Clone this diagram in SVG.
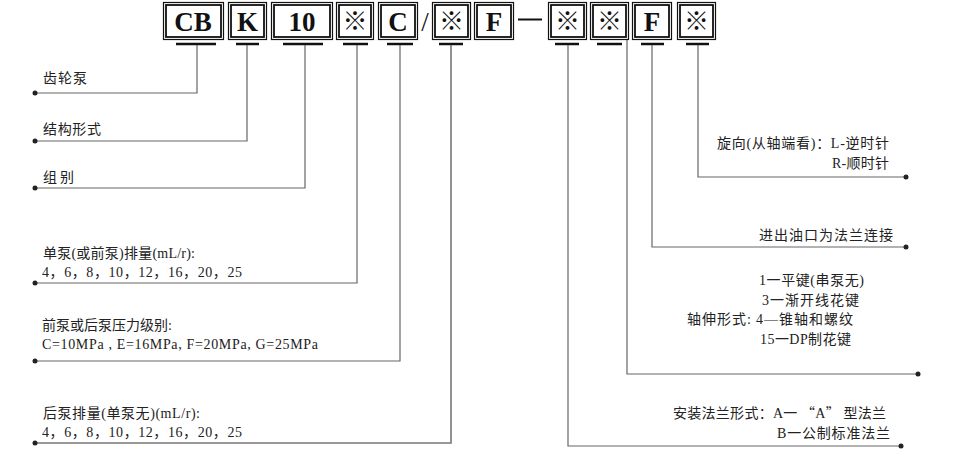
<svg xmlns="http://www.w3.org/2000/svg" width="953" height="464" viewBox="0 0 953 464">
<defs>
<style>
.bo{fill:none;stroke:#111;stroke-width:1.2}
.bi{fill:#fff;stroke:#111;stroke-width:1.8}
.bt{font-family:"Liberation Serif",serif;font-weight:bold;font-size:27px;fill:#111;text-anchor:middle}
.sym{font-family:"Noto Sans CJK SC",sans-serif;font-size:25px;fill:#111;text-anchor:middle}
.bar{stroke:#111;stroke-width:2.5}
.ln{fill:none;stroke:#666;stroke-width:1.2}
.dot{fill:#222}
.cn{font-family:"Noto Sans CJK SC",sans-serif;font-size:14px;fill:#222}
.sr{font-family:"Liberation Serif","Noto Sans CJK SC",serif;font-size:14px;fill:#222}
</style>
</defs>
<rect width="953" height="464" fill="#fff"/>

<g id="code">
<g id="box-CB"><rect class="bo" x="163.5" y="2.5" width="60" height="37"/><rect class="bi" x="166" y="5" width="55" height="32"/><text class="bt" x="193" y="31">CB</text></g>
<g id="box-K"><rect class="bo" x="228.5" y="2.5" width="38" height="37"/><rect class="bi" x="231" y="5" width="33" height="32"/><text class="bt" x="247.5" y="31">K</text></g>
<g id="box-10"><rect class="bo" x="271.5" y="2.5" width="61" height="37"/><rect class="bi" x="274" y="5" width="56" height="32"/><text class="bt" x="302" y="31">10</text></g>
<g id="box-s1"><rect class="bo" x="336.5" y="2.5" width="37" height="37"/><rect class="bi" x="339" y="5" width="32" height="32"/><text class="sym" x="355" y="30">※</text></g>
<g id="box-C"><rect class="bo" x="378.5" y="2.5" width="39" height="37"/><rect class="bi" x="381" y="5" width="34" height="32"/><text class="bt" x="398" y="31">C</text></g>
<text id="slash" class="bt" style="font-weight:normal" x="425" y="31">/</text>
<g id="box-s2"><rect class="bo" x="432.5" y="2.5" width="38" height="37"/><rect class="bi" x="435" y="5" width="33" height="32"/><text class="sym" x="451.5" y="30">※</text></g>
<g id="box-F1"><rect class="bo" x="474.5" y="2.5" width="39" height="37"/><rect class="bi" x="477" y="5" width="34" height="32"/><text class="bt" x="494" y="31">F</text></g>
<line id="dash" x1="518" y1="19.5" x2="542" y2="19.5" stroke="#111" stroke-width="2"/>
<g id="box-s3"><rect class="bo" x="548.5" y="2.5" width="38" height="37"/><rect class="bi" x="551" y="5" width="33" height="32"/><text class="sym" x="567.5" y="30">※</text></g>
<g id="box-s4"><rect class="bo" x="590.5" y="2.5" width="38" height="37"/><rect class="bi" x="593" y="5" width="33" height="32"/><text class="sym" x="609.5" y="30">※</text></g>
<g id="box-F2"><rect class="bo" x="632.5" y="2.5" width="39" height="37"/><rect class="bi" x="635" y="5" width="34" height="32"/><text class="bt" x="652" y="31">F</text></g>
<g id="box-s5"><rect class="bo" x="677.5" y="2.5" width="38" height="37"/><rect class="bi" x="680" y="5" width="33" height="32"/><text class="sym" x="696.5" y="30">※</text></g>
</g>

<g id="connectors">
<line class="bar" x1="176" y1="44" x2="216" y2="44"/>
<line class="bar" x1="236" y1="44" x2="259" y2="44"/>
<line class="bar" x1="283" y1="44" x2="323" y2="44"/>
<line class="bar" x1="343" y1="44" x2="368" y2="44"/>
<line class="bar" x1="387" y1="44" x2="413" y2="44"/>
<line class="bar" x1="439" y1="44" x2="463" y2="44"/>
<line class="bar" x1="555" y1="44" x2="579" y2="44"/>
<line class="bar" x1="597" y1="44" x2="622" y2="44"/>
<line class="bar" x1="641" y1="44" x2="664" y2="44"/>
<line class="bar" x1="686" y1="44" x2="709" y2="44"/>
<polyline class="ln" points="197,45 197,93 35,93"/>
<polyline class="ln" points="247,45 247,141 35,141"/>
<polyline class="ln" points="305,45 305,188 35,188"/>
<polyline class="ln" points="357,45 357,283 35,283"/>
<polyline class="ln" points="400,45 400,361 35,361"/>
<polyline class="ln" points="451,45 451,443 35,443" style="stroke-width:1.6;stroke:#777"/>
<polyline class="ln" points="568,45 568,446 901,446"/>
<polyline class="ln" points="627,40 627,374 918,374"/>
<polyline class="ln" points="652,45 652,247 906,247"/>
<polyline class="ln" points="698,45 698,177 906,177"/>
<circle class="dot" cx="35" cy="93" r="2.5"/>
<circle class="dot" cx="35" cy="141" r="2.5"/>
<circle class="dot" cx="35" cy="188" r="2.5"/>
<circle class="dot" cx="35" cy="283" r="2.5"/>
<circle class="dot" cx="35" cy="361" r="2.5"/>
<circle class="dot" cx="35" cy="443" r="2.5"/>
<circle class="dot" cx="901" cy="446" r="2.5"/>
<circle class="dot" cx="918" cy="374" r="2.5"/>
<circle class="dot" cx="906" cy="247" r="2.5"/>
<circle class="dot" cx="906" cy="177" r="2.5"/>
</g>

<g id="labels">
<g id="lbl-pump"><text class="cn" x="43" y="83" textLength="44">齿轮泵</text></g>
<g id="lbl-struct"><text class="cn" x="43" y="134" textLength="58">结构形式</text></g>
<g id="lbl-group"><text class="cn" x="43" y="182" textLength="31">组别</text></g>
<g id="lbl-disp1"><text class="cn" x="43" y="258" textLength="152">单泵<tspan class="sr">(</tspan>或前泵<tspan class="sr">)</tspan>排量<tspan class="sr">(mL/r):</tspan></text>
<text class="sr" x="42" y="277" textLength="200" lengthAdjust="spacing">4，6，8，10，12，16，20，25</text></g>
<g id="lbl-press"><text class="cn" x="42" y="330" textLength="130">前泵或后泵压力级别<tspan class="sr">:</tspan></text>
<text class="sr" x="42" y="349" textLength="276" lengthAdjust="spacing">C=10MPa , E=16MPa, F=20MPa, G=25MPa</text></g>
<g id="lbl-disp2"><text class="cn" x="43" y="418" textLength="157">后泵排量<tspan class="sr">(</tspan>单泵无<tspan class="sr">)(mL/r):</tspan></text>
<text class="sr" x="42" y="437" textLength="200" lengthAdjust="spacing">4，6，8，10，12，16，20，25</text></g>
<g id="lbl-rot"><text class="cn" x="717" y="148" textLength="172">旋向<tspan class="sr">(</tspan>从轴端看<tspan class="sr">)</tspan>：<tspan class="sr">L-</tspan>逆时针</text>
<text class="cn" x="832" y="168" textLength="57"><tspan class="sr">R-</tspan>顺时针</text></g>
<g id="lbl-port"><text class="cn" x="759" y="240" textLength="134">进出油口为法兰连接</text></g>
<g id="lbl-shaft">
<text class="cn" x="759" y="285" textLength="105"><tspan class="sr">1</tspan>一平键<tspan class="sr">(</tspan>串泵无<tspan class="sr">)</tspan></text>
<text class="cn" x="762" y="305" textLength="97"><tspan class="sr">3</tspan>一渐开线花键</text>
<text class="cn" x="687" y="324" textLength="166">轴伸形式<tspan class="sr">:</tspan> <tspan class="sr">4—</tspan>锥轴和螺纹</text>
<text class="cn" x="760" y="344" textLength="91"><tspan class="sr">15</tspan>一<tspan class="sr">DP</tspan>制花键</text>
</g>
<g id="lbl-flange">
<text class="cn" x="673" y="418" textLength="213">安装法兰形式：<tspan class="sr">A</tspan>一 “<tspan class="sr">A</tspan>” 型法兰</text>
<text class="cn" x="777" y="438" textLength="113"><tspan class="sr">B</tspan>一公制标准法兰</text>
</g>
</g>
</svg>
